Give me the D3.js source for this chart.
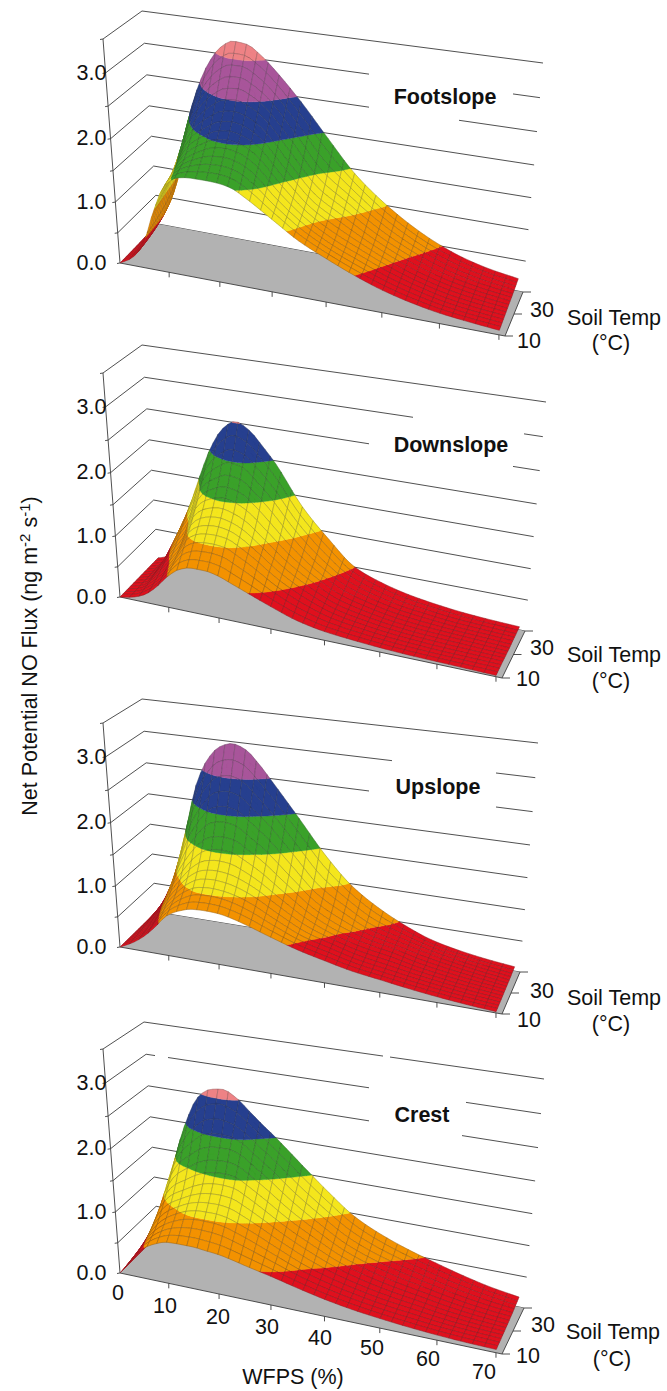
<!DOCTYPE html>
<html>
<head>
<meta charset="utf-8">
<script src="https://cdn.jsdelivr.net/npm/d3@7"></script>
<style>
  html, body { margin: 0; padding: 0; background: #fff; }
  svg { display: block; }
  text { font-family: "Liberation Sans", Arial, sans-serif; fill: #111; }
</style>
</head>
<body>
<svg id="canvas" width="667" height="1391"></svg>
<script>
// values, one row per soil temperature
const wfps = [0, 2.5, 5, 7.5, 10, 12.5, 15, 17.5, 20, 22.5, 25, 30, 35, 40, 45, 50, 55, 60, 65, 70]
const soilTemp = [10, 15, 20, 25, 30]

const footslope10 = [0, .12, .38, .95, 1.4, 1.55, 1.58, 1.58, 1.57, 1.53, 1.42, 1.15, .88, .68, .5, .35, .24, .16, .11, .07]
const footslope15 = [0, .15, .42, 1.05, 1.48, 1.68, 1.8, 1.88, 1.9, 1.86, 1.75, 1.35, 1.02, .78, .6, .43, .3, .2, .14, .1]
const footslope20 = [0, .2, .48, 1.2, 1.65, 1.95, 2.1, 2.22, 2.25, 2.2, 2.08, 1.62, 1.2, .95, .72, .52, .36, .25, .18, .13]
const footslope25 = [0, .27, .6, 1.42, 2.0, 2.35, 2.57, 2.7, 2.72, 2.63, 2.48, 2.0, 1.48, 1.18, .88, .64, .45, .31, .22, .16]
const footslope30 = [0, .35, .85, 1.75, 2.38, 2.82, 3.1, 3.22, 3.2, 3.07, 2.88, 2.43, 1.92, 1.43, 1.07, .78, .55, .38, .27, .2]

const downslope10 = [0, .04, .12, .28, .5, .66, .72, .72, .68, .6, .52, .36, .22, .14, .1, .07, .05, .04, .03, .02]
const downslope15 = [0, .05, .2, .4, .65, .95, 1.05, 1.07, 1.05, .95, .83, .56, .36, .22, .15, .1, .07, .05, .04, .03]
const downslope20 = [0, .06, .3, .58, .85, 1.25, 1.38, 1.42, 1.37, 1.27, 1.1, .76, .5, .3, .2, .13, .09, .07, .05, .03]
const downslope25 = [0, .07, .42, .8, 1.15, 1.62, 1.8, 1.9, 1.87, 1.7, 1.5, 1.03, .66, .4, .26, .17, .12, .08, .06, .04]
const downslope30 = [0, .08, .55, 1.0, 1.55, 2.05, 2.38, 2.52, 2.42, 2.2, 1.95, 1.33, .88, .5, .33, .22, .15, .1, .07, .05]

const upslope10 = [0, .1, .24, .43, .65, .76, .82, .83, .82, .78, .72, .58, .45, .35, .26, .2, .14, .09, .05, .02]
const upslope15 = [0, .13, .3, .58, .82, 1.0, 1.1, 1.12, 1.1, 1.05, .97, .75, .55, .43, .32, .25, .18, .12, .07, .03]
const upslope20 = [0, .17, .4, .8, 1.1, 1.35, 1.5, 1.54, 1.52, 1.42, 1.3, 1.0, .72, .52, .4, .32, .22, .15, .09, .04]
const upslope25 = [0, .22, .55, 1.08, 1.62, 1.95, 2.17, 2.22, 2.17, 2.0, 1.83, 1.4, .97, .72, .5, .38, .27, .18, .11, .05]
const upslope30 = [0, .3, .8, 1.5, 2.25, 2.68, 2.9, 2.97, 2.9, 2.7, 2.45, 1.93, 1.4, .97, .68, .46, .29, .19, .12, .07]

const crest10 = [0, .25, .48, .6, .67, .68, .68, .66, .64, .6, .55, .46, .36, .27, .2, .15, .11, .08, .06, .05]
const crest15 = [0, .3, .6, .8, .92, 1.0, 1.03, 1.03, 1.0, .93, .85, .67, .5, .38, .29, .22, .17, .12, .09, .07]
const crest20 = [0, .34, .85, 1.1, 1.22, 1.33, 1.4, 1.42, 1.4, 1.3, 1.18, .93, .72, .53, .4, .31, .24, .17, .12, .09]
const crest25 = [0, .4, 1.15, 1.55, 1.75, 1.9, 1.95, 1.95, 1.88, 1.73, 1.58, 1.25, .97, .72, .55, .43, .33, .24, .17, .12]
const crest30 = [0, .45, 1.45, 2.05, 2.45, 2.6, 2.63, 2.53, 2.35, 2.17, 2.0, 1.63, 1.27, .95, .74, .58, .45, .33, .23, .16]

const fluxLevels = [0, .5, 1, 1.5, 2, 2.5, 3, 3.5]
const fluxLabels = [0, 1, 2, 3]
const wfpsTicks = [0, 10, 20, 30, 40, 50, 60, 70]
const tempTicks = [10, 20, 30]

const red = '#e0101e', orange = '#f39200', yellow = '#f4e61c', green = '#3aa12a', blue = '#263f8f', purple = '#a8559a', pink = '#ee8285'

// box corners on the page: A front-left, B front-right, C back-left, D back-right, then the tops
const panels = [
  { name: 'Footslope', rows: [footslope10, footslope15, footslope20, footslope25, footslope30],
    A: [120, 263], B: [505, 336], C: [158, 224], D: [523, 292], E: [103, 39], G: [142, 11], H: [543, 63],
    colors: [red, orange, yellow, green, blue, purple, pink],
    gaps: { 3: [[369, 513]], 2.5: [[369, 459]] },
    title: [445, 96], t30: [542, 309], t10: [529, 340], soil: [614, 317], unit: [611, 342] },
  { name: 'Downslope', rows: [downslope10, downslope15, downslope20, downslope25, downslope30],
    A: [120, 597], B: [502, 678], C: [158, 558], D: [525, 631], E: [103, 373], G: [142, 345], H: [546, 402],
    colors: [red, orange, yellow, green, blue, pink, pink],
    gaps: { 3: [[413, 524]], 2.5: [[369, 513]] },
    title: [451, 444], t30: [542, 647], t10: [528, 678], soil: [614, 654], unit: [611, 680] },
  { name: 'Upslope', rows: [upslope10, upslope15, upslope20, upslope25, upslope30],
    A: [120, 947], B: [502, 1014], C: [156, 912], D: [520, 972], E: [103, 723], G: [142, 699], H: [538, 743],
    colors: [red, orange, yellow, green, blue, purple, pink],
    gaps: { 3: [[392, 496]], 2.5: [[369, 496]] },
    title: [438, 786], t30: [542, 990], t10: [529, 1019], soil: [614, 997], unit: [611, 1023] },
  { name: 'Crest', rows: [crest10, crest15, crest20, crest25, crest30],
    A: [120, 1273], B: [502, 1354], C: [158, 1235], D: [524, 1308], E: [103, 1049], G: [144, 1022], H: [544, 1079],
    colors: [red, orange, yellow, green, blue, pink, pink],
    gaps: { 3.5: [[383, 390]], 3: [[155, 168], [369, 466]], 2.5: [[369, 462]] },
    title: [422, 1114], t30: [543, 1324], t10: [528, 1355], soil: [613, 1331], unit: [612, 1358] }
]

const wfpsScale = d3.scaleLinear().domain([0, 71]).range([0, 1])
const tempScale = d3.scaleLinear().domain([10, 30]).range([0, 1])
const fluxScale = d3.scaleLinear().domain([0, 3.5]).range([0, 1])

// foreshortening of the far end of an axis
let warp = (s, r) => s / (s + r * (1 - s))
let mix = (a, b, t) => [a[0] + (b[0] - a[0]) * t, a[1] + (b[1] - a[1]) * t]

let makeProjection = (p) => {
  // front-right top is hidden in the reference, taken from the neighbours
  let F = [p.B[0] + 22, p.B[1] - 243]
  return (w, t, z) => {
    let u = warp(wfpsScale(w), 1.12), v = tempScale(t), h = warp(fluxScale(z), 1.07)
    let bottom = mix(mix(p.A, p.B, u), mix(p.C, p.D, u), v)
    let top = mix(mix(p.E, F, u), mix(p.G, p.H, u), v)
    return mix(bottom, top, h)
  }
}

// smooth curve through the read values, same idea as d3.curveMonotoneX
let monotone = (xs, ys) => {
  let n = xs.length, d = [], m = []
  for (let i = 0; i < n - 1; i++) d[i] = (ys[i + 1] - ys[i]) / (xs[i + 1] - xs[i])
  m[0] = d[0]
  m[n - 1] = d[n - 2]
  for (let i = 1; i < n - 1; i++) {
    if (d[i - 1] * d[i] <= 0) m[i] = 0
    else {
      let a = xs[i] - xs[i - 1], b = xs[i + 1] - xs[i]
      m[i] = 3 * (a + b) / ((2 * b + a) / d[i - 1] + (b + 2 * a) / d[i])
    }
  }
  return (x) => {
    let i = Math.min(n - 2, Math.max(0, d3.bisectRight(xs, x) - 1))
    let h = xs[i + 1] - xs[i], s = (x - xs[i]) / h
    return (2 * s ** 3 - 3 * s ** 2 + 1) * ys[i] + (s ** 3 - 2 * s ** 2 + s) * h * m[i] +
      (-2 * s ** 3 + 3 * s ** 2) * ys[i + 1] + (s ** 3 - s ** 2) * h * m[i + 1]
  }
}

// cut a polygon of [w, t, z] corners to one flux band
let clipBand = (poly, lo, hi) => {
  let cut = (pts, level, keepAbove) => {
    let out = []
    pts.forEach((a, i) => {
      let b = pts[(i + 1) % pts.length]
      let aIn = keepAbove ? a[2] >= level : a[2] <= level
      let bIn = keepAbove ? b[2] >= level : b[2] <= level
      if (aIn) out.push(a)
      if (aIn !== bIn) {
        let k = (level - a[2]) / (b[2] - a[2])
        out.push([a[0] + (b[0] - a[0]) * k, a[1] + (b[1] - a[1]) * k, level])
      }
    })
    return out
  }
  let res = cut(poly, lo, true)
  return res.length ? cut(res, hi, false) : res
}

let canvas = d3.select('#canvas')
const fontSize = 21.5

let drawPanel = (p) => {
  let project = makeProjection(p)
  let g = canvas.append('g').attr('class', 'panel')
  let axisColor = '#3c3c3c'

  let seg = (a, b) => {
    g.append('line').attr('x1', a[0]).attr('y1', a[1]).attr('x2', b[0]).attr('y2', b[1])
      .attr('stroke', axisColor).attr('stroke-width', 0.9)
  }

  // walls: left wall rungs and back wall lines, the back ones broken around the title
  fluxLevels.forEach((level) => {
    let front = project(0, 10, level), back = project(0, 30, level), end = project(71, 30, level)
    if (level > 0) seg(front, back)
    let cuts = p.gaps[level] || []
    let start = back
    cuts.forEach((c) => {
      let at = (x) => mix(back, end, (x - back[0]) / (end[0] - back[0]))
      seg(start, at(c[0]))
      start = at(c[1])
    })
    seg(start, end)
    seg([front[0] - 3, front[1] + 0.5], front)
  })
  seg(project(0, 10, 0), project(0, 10, 3.5))

  // floor
  g.append('polygon')
    .attr('points', [p.A, p.B, p.D, p.C].join(' '))
    .attr('fill', '#b2b2b2')

  seg(p.A, p.B)
  seg(p.B, p.D)
  wfpsTicks.forEach((w) => {
    if (w === 0) return
    let a = project(w, 10, 0)
    seg(a, [a[0], a[1] + 5])
  })
  tempTicks.forEach((t) => {
    let a = project(71, t, 0)
    seg(a, [a[0] + 8, a[1]])
  })

  // surface on a fine grid for fills, mesh lines on every second node
  let curves = p.rows.map((row) => monotone(wfps, row))
  let fineW = d3.range(0, 70.01, 1)
  let fineT = d3.range(0, 29).map((i) => 10 + i * 20 / 28)
  let zGrid = fineW.map((w) => {
    let atTemp = monotone(soilTemp, curves.map((c) => c(w)))
    return fineT.map((t) => Math.max(0, atTemp(t)))
  })
  let node = (i, j) => [fineW[i], fineT[j], zGrid[i][j]]

  let toPath = (poly) => 'M' + poly.map((q) => project(q[0], q[1], q[2]).map((n) => n.toFixed(2)).join(',')).join('L') + 'Z'

  let cells = []
  for (let j = fineT.length - 3; j >= 0; j -= 2) {
    for (let i = 0; i < fineW.length - 2; i += 2) {
      let fills = p.colors.map(() => '')
      for (let a = 0; a < 2; a++) {
        for (let b = 0; b < 2; b++) {
          let poly = [node(i + a, j + b), node(i + a + 1, j + b), node(i + a + 1, j + b + 1), node(i + a, j + b + 1)]
          p.colors.forEach((c, k) => {
            let part = clipBand(poly, fluxLevels[k], fluxLevels[k + 1])
            if (part.length > 2) fills[k] += toPath(part)
          })
        }
      }
      let outline = [node(i, j), node(i + 1, j), node(i + 2, j), node(i + 2, j + 1), node(i + 2, j + 2),
        node(i + 1, j + 2), node(i, j + 2), node(i, j + 1)]
      cells.push({ fills: fills, outline: toPath(outline) })
    }
  }

  cells.forEach((cell) => {
    cell.fills.forEach((d, k) => {
      if (d) g.append('path').attr('d', d).attr('fill', p.colors[k]).attr('stroke', p.colors[k]).attr('stroke-width', 0.35)
    })
    g.append('path').attr('d', cell.outline).attr('fill', 'none')
      .attr('stroke', '#2a2a2a').attr('stroke-opacity', 0.42).attr('stroke-width', 0.55)
  })

  // labels
  let label = (txt, x, y, anchor, weight) => {
    g.append('text').attr('x', x).attr('y', y).attr('dy', '0.36em')
      .attr('text-anchor', anchor || 'middle').attr('font-size', fontSize)
      .attr('font-weight', weight || 'normal').text(txt)
  }
  fluxLabels.forEach((v) => {
    label(d3.format('.1f')(v), 106.5, project(0, 10, v)[1] - 1, 'end')
  })
  label(p.name, p.title[0], p.title[1], 'middle', 'bold')
  label('30', p.t30[0], p.t30[1])
  label('10', p.t10[0], p.t10[1])
  label('Soil Temp', p.soil[0], p.soil[1])
  label('(°C)', p.unit[0], p.unit[1])
}

panels.forEach(drawPanel)

// WFPS tick labels only under the last panel
const wfpsLabelX = [118, 165, 218, 267, 320, 372, 428, 484]
const wfpsLabelY = [1292, 1305, 1316, 1326, 1337, 1347, 1358, 1371]
wfpsTicks.forEach((w, i) => {
  canvas.append('text').attr('x', wfpsLabelX[i]).attr('y', wfpsLabelY[i]).attr('dy', '0.36em')
    .attr('text-anchor', 'middle').attr('font-size', fontSize).text(w)
})

canvas.append('text').attr('x', 293).attr('y', 1376).attr('dy', '0.36em')
  .attr('text-anchor', 'middle').attr('font-size', fontSize).text('WFPS (%)')

let yTitle = canvas.append('text')
  .attr('transform', 'translate(29,656) rotate(-90)')
  .attr('dy', '0.36em').attr('text-anchor', 'middle').attr('font-size', fontSize)
yTitle.append('tspan').text('Net Potential NO Flux (ng m')
yTitle.append('tspan').attr('dy', -7).attr('font-size', 15).text('-2')
yTitle.append('tspan').attr('dy', 7).text(' s')
yTitle.append('tspan').attr('dy', -7).attr('font-size', 15).text('-1')
yTitle.append('tspan').attr('dy', 7).text(')')
</script>
</body>
</html>
